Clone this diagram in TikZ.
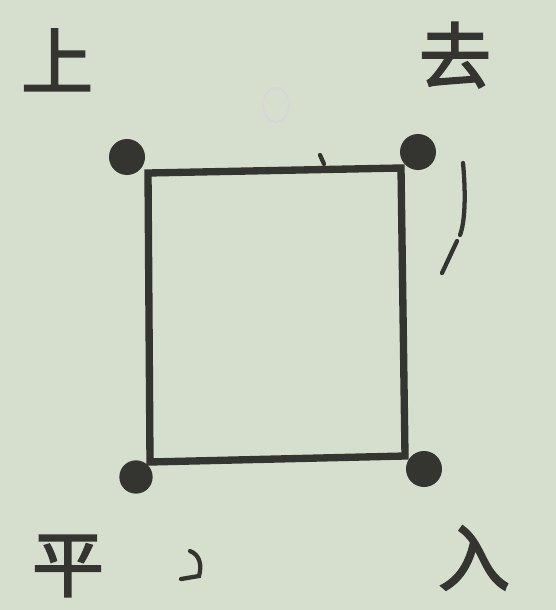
\documentclass[tikz,border=0pt]{standalone}
\usepackage{fontspec}
\newfontfamily\cjk[FakeBold=2.5]{Noto Sans CJK SC}
\definecolor{paper}{RGB}{214,223,205}
\definecolor{ink}{RGB}{52,52,48}
\begin{document}
\begin{tikzpicture}[x=0.75pt,y=-0.75pt,
  dot/.style={circle,fill=ink,inner sep=0pt,minimum size=27pt},
  glyph/.style={text=ink,font=\cjk\fontsize{54}{54}\selectfont,inner sep=0pt},
  frame/.style={draw=ink,line width=5.5pt,line join=miter},
  stray/.style={draw=ink,line width=3.2pt,line cap=round}]
\fill[paper] (0,0) rectangle (556,610);
\useasboundingbox (0,0) rectangle (556,610);
% faint mark showing through
\draw[ink!20,line width=1.5pt] (276,105) ellipse (13 and 17);
% corners
\coordinate (c1) at (148,173);
\coordinate (c2) at (401,168);
\coordinate (c3) at (405,456);
\coordinate (c4) at (150,462);
\draw[frame] (c1) -- (c2) -- (c3) -- (c4) -- cycle;
% dots
\node[dot] (d1) at (127,157) {};
\node[dot] (d2) at (418,152) {};
\node[dot,minimum size=25pt] (d4) at (136,477) {};
\node[dot] (d3) at (424,469) {};
% labels
\node[glyph] (t1) at (57,60) {上};
\node[glyph] (t2) at (455,55) {去};
\node[glyph] (t3) at (68,566) {平};
\node[glyph] (t4) at (474,558) {入};
% stray marks
\draw[stray] (320,155) -- (324,164);
\draw[stray] (463,163) .. controls (466,195) and (465,222) .. (460,235);
\draw[stray] (457,241) -- (442,273);
\draw[stray] (190,551) .. controls (200,555) and (202,565) .. (199,576) -- (181,579);
\end{tikzpicture}
\end{document}
